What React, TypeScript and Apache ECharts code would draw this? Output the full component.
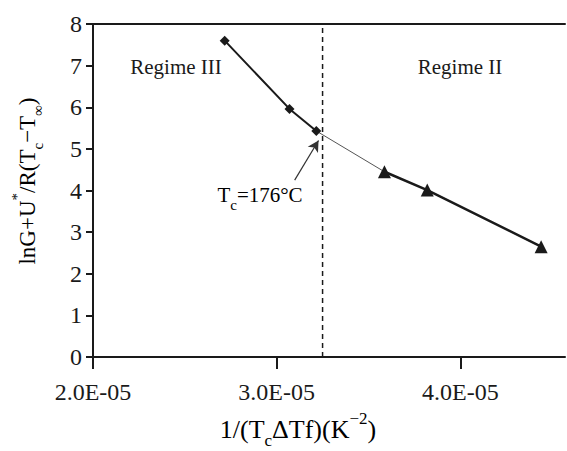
import React, { useEffect, useRef } from 'react';
import * as echarts from 'echarts';

// Data
const regime3X = [2.717e-5, 3.07e-5, 3.216e-5];
const regime3Y = [7.6, 5.96, 5.43];
const regime2X = [3.587e-5, 3.82e-5, 4.44e-5];
const regime2Y = [4.45, 4.01, 2.65];
const transitionX = 3.25e-5;
const arrowStart = [3.098e-5, 4.25];
const arrowEnd = [3.228e-5, 5.2];
const xMin = 2e-5;
const xMax = 4.57e-5;
const xInterval = 1e-5;
const yMin = 0;
const yMax = 8;

const FONT = "'Liberation Serif', 'Times New Roman', serif";
const INK = '#1a1a1a';

function fmtX(v: number): string {
  const m = v / 1e-5;
  return m.toFixed(1) + 'E-05';
}

function richStyles(size: number) {
  const small = Math.round(size * 0.66);
  return {
    m: { fontSize: size, fontFamily: FONT, color: INK, lineHeight: size + 6, verticalAlign: 'middle' },
    s: { fontSize: small, fontFamily: FONT, color: INK, verticalAlign: 'bottom', lineHeight: small, padding: [0, 0, -4, 0] },
    p: { fontSize: small, fontFamily: FONT, color: INK, verticalAlign: 'top', lineHeight: small, padding: [-3, 0, 0, 0] },
  };
}

export default function App() {
  const ref = useRef<HTMLDivElement>(null);
  useEffect(() => {
    if (!ref.current) return;
    const chart = echarts.init(ref.current, null, { renderer: 'svg' });
    const r3 = regime3X.map((x, i) => [x, regime3Y[i]]);
    const r2 = regime2X.map((x, i) => [x, regime2Y[i]]);
    const link = [r3[r3.length - 1], r2[0]];
    const dashed = [[transitionX, yMin], [transitionX, yMax]];
    chart.setOption({
      animation: false,
      grid: { left: 93, right: 2, top: 24, bottom: 94, containLabel: false },
      xAxis: [
        {
          type: 'value',
          min: xMin,
          max: xMax,
          interval: xInterval,
          position: 'bottom',
          axisLine: { show: true, lineStyle: { color: INK, width: 2 } },
          axisTick: { show: true, length: 12, lineStyle: { color: INK, width: 2 } },
          axisLabel: {
            margin: 23,
            fontSize: 24,
            fontFamily: FONT,
            color: INK,
            formatter: (v: number) => fmtX(v),
            showMaxLabel: false,
          },
          splitLine: { show: false },
        },
        {
          type: 'value',
          min: xMin,
          max: xMax,
          position: 'top',
          axisLine: { show: true, lineStyle: { color: INK, width: 2 } },
          axisTick: { show: false },
          axisLabel: { show: false },
          splitLine: { show: false },
        },
      ],
      yAxis: {
        type: 'value',
        min: yMin,
        max: yMax,
        interval: 1,
        axisLine: { show: true, onZero: false, lineStyle: { color: INK, width: 2 } },
        axisTick: { show: true, length: 7, lineStyle: { color: INK, width: 2 } },
        axisLabel: { margin: 11, fontSize: 24, fontFamily: FONT, color: INK },
        splitLine: { show: false },
      },
      series: [
        {
          type: 'line',
          data: dashed,
          symbol: 'none',
          lineStyle: { color: INK, width: 1.5, type: [5, 4] },
          z: 1,
        },
        {
          type: 'line',
          data: link,
          symbol: 'none',
          lineStyle: { color: '#555', width: 1 },
          z: 1,
        },
        {
          name: 'Regime III',
          type: 'line',
          data: r3,
          symbol: 'diamond',
          symbolSize: 10,
          itemStyle: { color: INK },
          lineStyle: { color: INK, width: 2 },
          z: 3,
        },
        {
          name: 'Regime II',
          type: 'line',
          data: r2,
          symbol: 'triangle',
          symbolSize: 13,
          itemStyle: { color: INK },
          lineStyle: { color: INK, width: 2.5 },
          z: 3,
          markLine: {
            silent: true,
            symbol: ['none', 'arrow'],
            symbolSize: [9, 11],
            label: { show: false },
            lineStyle: { color: '#333', type: 'solid', width: 1.2 },
            data: [[{ coord: arrowStart }, { coord: arrowEnd }]],
          },
        },
      ],
      graphic: [
        {
          type: 'text',
          x: 176,
          y: 67,
          style: {
            text: 'Regime III',
            fontSize: 21,
            fontFamily: FONT,
            fill: INK,
            align: 'center',
            verticalAlign: 'middle',
          },
        },
        {
          type: 'text',
          x: 460,
          y: 67,
          style: {
            text: 'Regime II',
            fontSize: 21,
            fontFamily: FONT,
            fill: INK,
            align: 'center',
            verticalAlign: 'middle',
          },
        },
        {
          type: 'text',
          x: 260,
          y: 195,
          style: {
            text: '{m|T}{s|c}{m|=176°C}',
            align: 'center',
            verticalAlign: 'middle',
            rich: {
              m: { fontSize: 21, fontFamily: FONT, color: INK, lineHeight: 26, verticalAlign: 'middle' },
              s: { fontSize: 15, fontFamily: FONT, color: INK, lineHeight: 15, verticalAlign: 'bottom', padding: [0, 0, -4, 0] },
            },
          },
        },
        {
          type: 'text',
          x: 298,
          y: 429,
          style: {
            text: '{m|1/(T}{s|c}{m|ΔTf)(K}{p|−2}{m|)}',
            align: 'center',
            verticalAlign: 'middle',
            rich: richStyles(26),
          },
        },
        {
          type: 'text',
          x: 27,
          y: 181,
          rotation: Math.PI / 2,
          style: {
            text: '{m|lnG+U}{p|*}{m|/R(T}{s|c}{m|−T}{s|∞}{m|)}',
            align: 'center',
            verticalAlign: 'middle',
            rich: richStyles(23),
          },
        },
      ],
    });
    return () => chart.dispose();
  }, []);
  return <div ref={ref} style={{ width: 567, height: 451, position: 'absolute', left: 0, top: 0, background: '#fff' }} />;
}
